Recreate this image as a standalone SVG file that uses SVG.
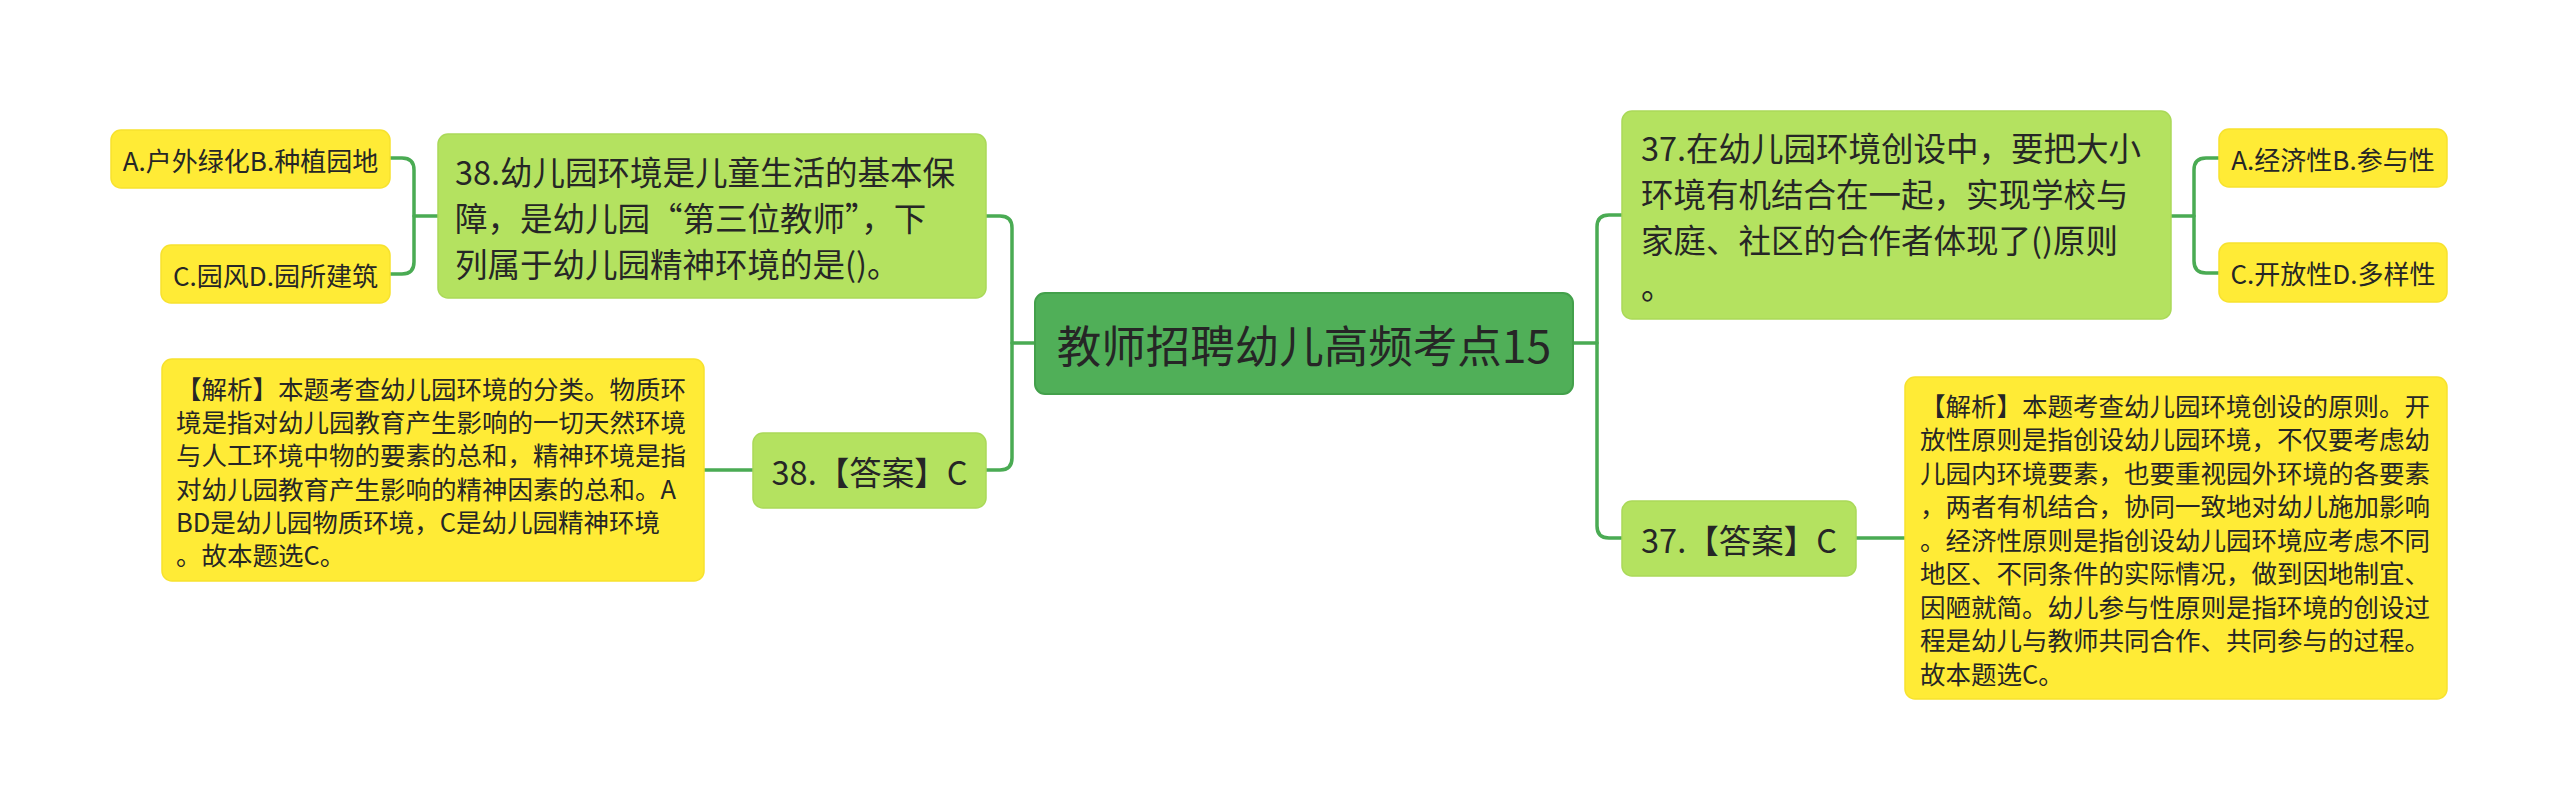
<svg xmlns="http://www.w3.org/2000/svg" width="2560" height="811" viewBox="0 0 2560 811">
<style>
text{font-family:"Noto Sans CJK SC","Noto Sans",sans-serif;fill:#262626;dominant-baseline:central}
.root rect{fill:#50af58;stroke:#43a04b;stroke-width:2}
.lg rect{fill:#b4e260;stroke:#aad958;stroke-width:1.5}
.yl rect{fill:#ffeb36;stroke:#f7e22e;stroke-width:1.5}
.c{fill:none;stroke:#4aab53;stroke-width:3.5;stroke-linecap:round}
.mid{text-anchor:middle}
.q{font-size:32.5px}
.a{font-size:25.5px}
</style>
<rect width="2560" height="811" fill="#ffffff"/>
<g id="connectors">
<path class="c" d="M1035 343 H1012"/>
<path class="c" d="M986 216 H1000 Q1012 216 1012 228 V458 Q1012 470 1000 470 H986"/>
<path class="c" d="M1573 343 H1597"/>
<path class="c" d="M1622 215 H1609 Q1597 215 1597 227 V526 Q1597 538 1609 538 H1622"/>
<path class="c" d="M438 216 H414"/>
<path class="c" d="M390 158 H402 Q414 158 414 170 V262 Q414 274 402 274 H390"/>
<path class="c" d="M2171 216 H2194"/>
<path class="c" d="M2219 158 H2206 Q2194 158 2194 170 V261 Q2194 273 2206 273 H2219"/>
<path class="c" d="M753 470 H704"/>
<path class="c" d="M1856 538 H1905"/>
</g>
<g id="root" class="root">
<rect x="1035" y="293" width="538" height="101" rx="10"/>
<text class="mid" x="1304" y="343" font-size="44.5">教师招聘幼儿高频考点15</text>
</g>
<g id="q38" class="lg">
<rect x="438" y="134" width="548" height="164" rx="10"/>
<text class="q" x="455" y="170">38.幼儿园环境是儿童生活的基本保</text>
<text class="q" x="455" y="216">障，是幼儿园“第三位教师”，下</text>
<text class="q" x="455" y="262">列属于幼儿园精神环境的是()。</text>
</g>
<g id="opt38a" class="yl">
<rect x="111" y="130" width="279" height="58" rx="10"/>
<text class="mid" x="250.5" y="159" font-size="26">A.户外绿化B.种植园地</text>
</g>
<g id="opt38c" class="yl">
<rect x="161" y="245" width="229" height="58" rx="10"/>
<text class="mid" x="275.5" y="274" font-size="26">C.园风D.园所建筑</text>
</g>
<g id="ans38" class="lg">
<rect x="753" y="433" width="233" height="75" rx="10"/>
<text class="mid q" x="869.5" y="470.5">38.【答案】C</text>
</g>
<g id="ana38" class="yl">
<rect x="162" y="359" width="542" height="222" rx="10"/>
<text class="a" x="176" y="387">【解析】本题考查幼儿园环境的分类。物质环</text>
<text class="a" x="176" y="420">境是指对幼儿园教育产生影响的一切天然环境</text>
<text class="a" x="176" y="453.5">与人工环境中物的要素的总和，精神环境是指</text>
<text class="a" x="176" y="487">对幼儿园教育产生影响的精神因素的总和。A</text>
<text class="a" x="176" y="520">BD是幼儿园物质环境，C是幼儿园精神环境</text>
<text class="a" x="176" y="553.5">。故本题选C。</text>
</g>
<g id="q37" class="lg">
<rect x="1622" y="111" width="549" height="208" rx="10"/>
<text class="q" x="1641" y="146">37.在幼儿园环境创设中，要把大小</text>
<text class="q" x="1641" y="192">环境有机结合在一起，实现学校与</text>
<text class="q" x="1641" y="238">家庭、社区的合作者体现了()原则</text>
<text class="q" x="1641" y="284">。</text>
</g>
<g id="opt37a" class="yl">
<rect x="2219" y="129" width="228" height="58" rx="10"/>
<text class="mid" x="2333" y="158" font-size="26">A.经济性B.参与性</text>
</g>
<g id="opt37c" class="yl">
<rect x="2219" y="243" width="228" height="59" rx="10"/>
<text class="mid" x="2333" y="272.5" font-size="26">C.开放性D.多样性</text>
</g>
<g id="ans37" class="lg">
<rect x="1622" y="501" width="234" height="75" rx="10"/>
<text class="mid q" x="1739" y="538.5">37.【答案】C</text>
</g>
<g id="ana37" class="yl">
<rect x="1905" y="377" width="542" height="322" rx="10"/>
<text class="a" x="1920" y="404">【解析】本题考查幼儿园环境创设的原则。开</text>
<text class="a" x="1920" y="437.5">放性原则是指创设幼儿园环境，不仅要考虑幼</text>
<text class="a" x="1920" y="471">儿园内环境要素，也要重视园外环境的各要素</text>
<text class="a" x="1920" y="504.5">，两者有机结合，协同一致地对幼儿施加影响</text>
<text class="a" x="1920" y="538">。经济性原则是指创设幼儿园环境应考虑不同</text>
<text class="a" x="1920" y="571.5">地区、不同条件的实际情况，做到因地制宜、</text>
<text class="a" x="1920" y="605">因陋就简。幼儿参与性原则是指环境的创设过</text>
<text class="a" x="1920" y="638.5">程是幼儿与教师共同合作、共同参与的过程。</text>
<text class="a" x="1920" y="672">故本题选C。</text>
</g>
</svg>
